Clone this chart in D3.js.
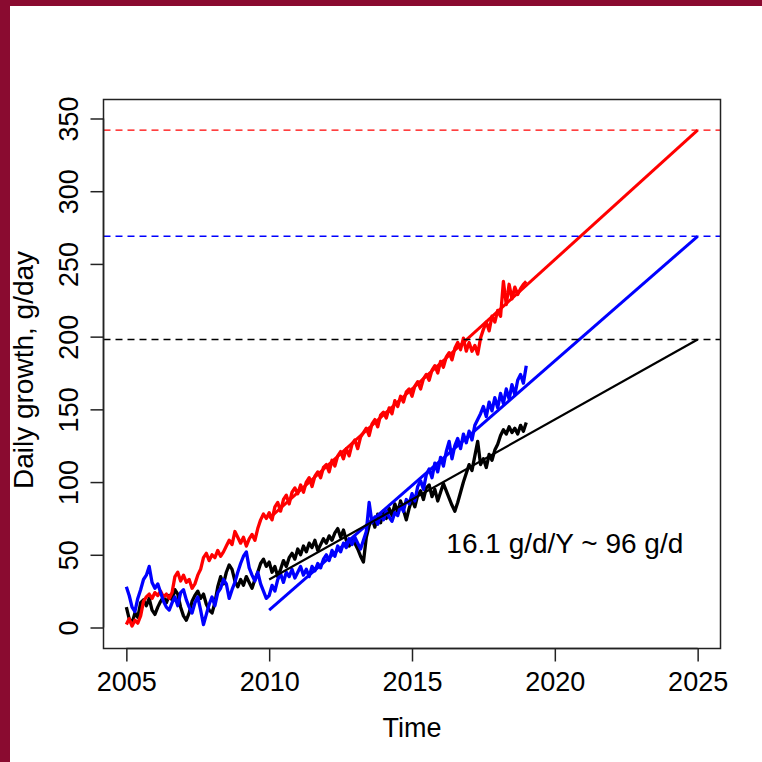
<!DOCTYPE html>
<html><head><meta charset="utf-8">
<script src="https://cdn.jsdelivr.net/npm/d3@7"></script>
<style>html,body{margin:0;padding:0;background:#fff;overflow:hidden;} svg{display:block;}</style>
</head><body>
<svg id="chart" width="762" height="762"></svg>
<script>
// ---- data ----
const startYear = 2005, stepYear = 0.1;
const redSeries = [
 2,6,1,5,3,8,18,21,23,20,
 24,22,25,21,23,20,24,35,38,32,
 36,31,33,27,30,36,40,48,51,46,
 50,48,53,49,52,56,60,57,66,62,
 58,62,56,61,64,60,68,74,78,75,
 79,74,83,86,80,88,91,85,93,96,
 92,98,93,100,103,97,104,107,103,110,
 112,107,115,111,118,121,116,123,118,126,
 129,123,131,134,137,132,140,143,138,146,
 148,144,151,147,156,152,159,155,162,164,
 159,166,169,164,171,174,170,177,180,175,
 183,179,186,189,184,192,196,191,199,190,
 196,190,194,188,199,205,210,204,214,210,
 218,214,238,222,236,226,234,229,233,236,
 238];
const blueSeries = [
 28,22,14,11,20,26,33,36,42,31,
 27,30,24,18,14,12,17,21,15,24,
 26,19,14,10,17,21,12,2,9,16,
 21,15,24,27,33,30,20,26,31,38,
 44,49,52,41,36,32,38,30,25,20,
 22,29,25,33,37,31,38,35,40,34,
 38,42,36,40,35,42,39,44,41,47,
 50,46,53,49,56,52,58,55,61,57,
 62,58,54,60,66,86,72,76,71,78,
 74,80,76,73,79,77,84,80,88,85,
 92,87,97,101,95,105,109,103,113,107,
 117,111,121,128,116,125,130,123,133,127,
 135,129,139,143,147,152,145,155,149,158,
 151,161,154,164,157,167,160,170,174,168,
 180];
const blackSeries = [
 14,6,3,10,7,17,19,15,20,12,
 9,14,18,21,17,22,19,26,23,14,
 8,5,10,18,22,25,20,23,16,12,
 10,17,28,35,30,38,43,40,32,28,
 33,29,35,31,27,33,38,44,47,42,
 45,38,42,35,40,46,42,48,51,47,
 54,50,56,52,58,55,60,53,57,61,
 58,63,60,65,68,62,67,60,56,61,
 58,54,49,45,62,70,75,69,78,72,
 80,75,82,77,85,79,87,81,74,82,
 88,83,91,94,88,96,98,90,95,87,
 93,99,94,89,84,80,86,93,100,106,
 112,108,118,128,112,116,110,119,115,122,
 126,132,136,133,138,134,137,133,139,135,
 141];
const trendRed = [[2010, 75], [2025, 342]];
const trendBlue = [[2010, 12], [2025, 269]];
const trendBlack = [[2010, 33], [2025, 198]];
const targetLevels = [342, 269, 198];
const xTicks = [2005, 2010, 2015, 2020, 2025];
const yTicks = [0, 50, 100, 150, 200, 250, 300, 350];
const xTitle = "Time";
const yTitle = "Daily growth, g/day";
const noteText = "16.1 g/d/Y ~ 96 g/d";
const notePos = [2020.35, 58];

// ---- drawing ----
const svg = d3.select("#chart");
const FONT = "'Liberation Sans', Arial, Helvetica, sans-serif";
const L = 103.5, R = 720.5, T = 99.5, B = 648.5;

// page background (maroon frame)
svg.append("rect").attr("x", 0).attr("y", 0).attr("width", 762).attr("height", 762).attr("fill", "#8a0b30");
svg.append("rect").attr("x", 10).attr("y", 6).attr("width", 752).attr("height", 756).attr("fill", "#ffffff");

const x = d3.scaleLinear().domain([2004.2, 2025.8]).range([L, R]);
const y = d3.scaleLinear().domain([-14.44, 363.06]).range([B, T]);

svg.append("clipPath").attr("id", "clip").append("rect")
  .attr("x", L).attr("y", T).attr("width", R - L).attr("height", B - T);
const plot = svg.append("g").attr("clip-path", "url(#clip)");

const toPts = arr => arr.map((v, i) => [startYear + i * stepYear, v]);
const line = d3.line().x(d => x(d[0])).y(d => y(d[1]));

const series = [
  {data: blackSeries, color: "#000000"},
  {data: redSeries, color: "#ff0000"},
  {data: blueSeries, color: "#0000ff"}
];
series.forEach(s => {
  plot.append("path").attr("d", line(toPts(s.data)))
    .attr("fill", "none").attr("stroke", s.color).attr("stroke-width", 3.3)
    .attr("stroke-linejoin", "round");
});

[[trendRed, "#ff0000", 3], [trendBlue, "#0000ff", 3], [trendBlack, "#000000", 2.2]].forEach(t => {
  plot.append("path").attr("d", line(t[0])).attr("fill", "none")
    .attr("stroke", t[1]).attr("stroke-width", t[2]);
});

const dashColors = ["#ff0000", "#0000ff", "#000000"];
targetLevels.forEach((lv, i) => {
  plot.append("line").attr("x1", L).attr("x2", R).attr("y1", y(lv)).attr("y2", y(lv))
    .attr("stroke", dashColors[i]).attr("stroke-width", 1.4).attr("stroke-dasharray", "7,5");
});

// box
svg.append("rect").attr("x", L).attr("y", T).attr("width", R - L).attr("height", B - T)
  .attr("fill", "none").attr("stroke", "#222").attr("stroke-width", 1.5);

// x axis
const xa = svg.append("g").attr("transform", `translate(0,${B})`)
  .call(d3.axisBottom(x).tickValues(xTicks).tickFormat(d3.format("d")).tickSize(13).tickSizeOuter(0).tickPadding(10));
xa.select(".domain").attr("d", `M${x(xTicks[0])},0H${x(xTicks[xTicks.length-1])}`).attr("stroke", "#222").attr("stroke-width", 1.5);
xa.selectAll(".tick line").attr("stroke", "#222").attr("stroke-width", 1.5);
xa.selectAll(".tick text").attr("font-family", FONT).attr("font-size", 27).attr("fill", "#000")
  .attr("dy", null).attr("y", 42.5);

// y axis
const ya = svg.append("g").attr("transform", `translate(${L},0)`)
  .call(d3.axisLeft(y).tickValues(yTicks).tickSize(13).tickSizeOuter(0));
ya.select(".domain").attr("d", `M0,${y(yTicks[0])}V${y(yTicks[yTicks.length-1])}`).attr("stroke", "#222").attr("stroke-width", 1.5);
ya.selectAll(".tick line").attr("stroke", "#222").attr("stroke-width", 1.5);
ya.selectAll(".tick text").attr("font-family", FONT).attr("font-size", 27).attr("fill", "#000")
  .attr("x", null).attr("dy", null).attr("text-anchor", "middle")
  .attr("transform", "translate(-25.5,0) rotate(-90)");

// titles
svg.append("text").attr("x", (L + R) / 2).attr("y", 737).attr("text-anchor", "middle")
  .attr("font-family", FONT).attr("font-size", 27).attr("fill", "#000").text(xTitle);
svg.append("text").attr("transform", `translate(33,${(T + B) / 2 - 4}) rotate(-90)`).attr("text-anchor", "middle")
  .attr("font-family", FONT).attr("font-size", 28).attr("fill", "#000").text(yTitle);

// annotation
svg.append("text").attr("x", x(notePos[0])).attr("y", y(notePos[1]) + 9.5).attr("text-anchor", "middle")
  .attr("font-family", FONT).attr("font-size", 28).attr("fill", "#000").text(noteText);
</script>
</body></html>
